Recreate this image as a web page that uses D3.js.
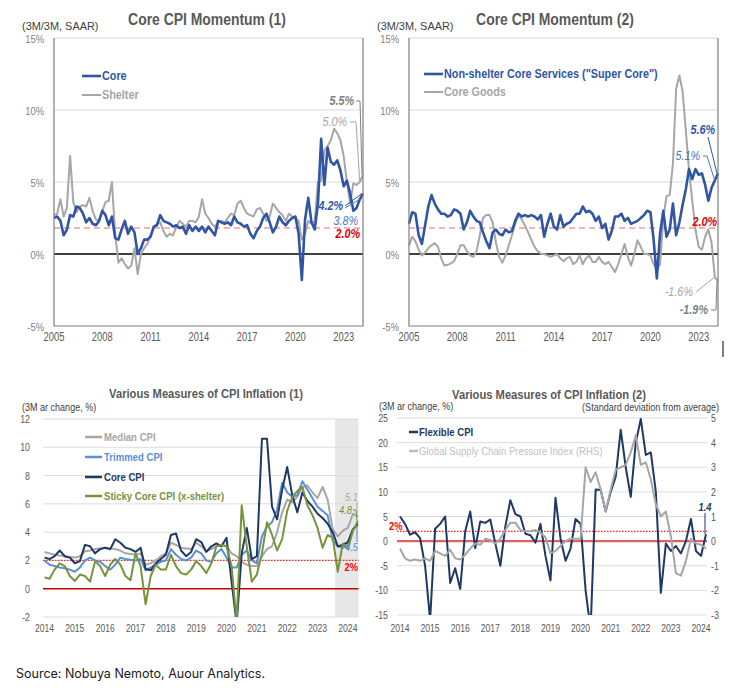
<!DOCTYPE html>
<html><head><meta charset="utf-8">
<script src="https://cdn.jsdelivr.net/npm/d3@7"></script>
<style>body{margin:0;background:#fff}svg{display:block}</style>
</head><body>
<svg id="c" width="748" height="694"></svg>
<script>
// ---------------- DATA ----------------
// Top panels: 3M/3M SAAR, sampled every 0.2 year from 2005.0
const topStart = 2005, topStep = 0.2;
const coreCPI = [2.5,2.6,2.3,1.3,1.7, 2.7,2.6,3.3,3.2,2.8, 2.2,2.5,2.1,2.0,2.3, 3.0,2.7,2.0,2.6,1.1,
  1.0,1.7,2.3,1.4,1.9, 1.5,0.0,0.4,1.0,1.0, 1.2,1.9,2.0,2.7,2.3, 2.2,2.1,1.9,2.0,1.8,
  1.9,1.4,2.0,1.6,1.9, 1.6,1.9,1.5,1.9,1.6, 1.3,2.3,2.2,2.1,2.2, 2.0,2.6,2.2,2.1,1.9,
  2.0,1.4,1.1,1.6,1.9, 2.5,2.8,2.2,1.5,1.9, 2.6,2.2,2.0,2.3,2.5, 2.6,1.4,-1.8,2.4,3.9,
  2.2,1.7,3.5,8.0,4.8, 7.4,6.4,6.2,6.5,5.8, 4.7,5.1,4.2,3.0,3.2, 3.8,4.2];
const shelter = [2.7,2.8,3.8,2.6,3.2, 6.8,3.6,2.9,3.3,3.4, 3.3,3.9,3.0,2.4,2.3, 3.0,3.6,3.7,5.0,1.4,
  -0.6,-0.3,-0.7,-1.0,-0.8, 0.4,-1.4,0.0,0.4,0.7, 1.3,1.9,2.1,2.2,1.6, 1.2,1.4,1.3,1.9,2.3,
  2.1,1.9,2.3,2.3,2.2, 2.6,3.8,2.8,2.5,2.1, 1.9,2.2,2.3,2.2,2.5, 2.8,2.7,3.5,3.7,3.2,
  2.8,2.7,2.6,3.1,3.2, 2.8,2.3,2.6,3.5,3.2, 2.9,2.7,2.3,2.8,2.6, 2.5,2.3,1.0,1.4,2.3,
  2.1,2.3,5.0,5.1,7.2, 7.5,7.9,8.7,8.4,7.9, 6.8,5.0,3.5,4.9,4.8, 5.0,5.5];
const superCore = [2.1,2.9,2.8,1.3,0.7, 2.0,3.3,4.1,3.5,3.1, 2.8,2.8,2.6,2.7,3.1, 3.0,2.8,1.7,2.2,3.0,
  2.6,2.3,2.2,1.5,0.9, 0.4,1.5,1.7,1.4,1.3, 1.7,1.5,1.6,2.3,2.8, 2.6,2.7,2.6,2.7,2.6,
  2.4,2.7,1.2,2.1,2.8, 1.9,1.7,2.7,1.9,2.1, 2.2,2.5,2.8,2.8,3.3, 2.9,3.0,2.8,2.3,2.6,
  1.8,2.1,1.0,1.6,2.6, 2.6,2.8,2.3,2.5,2.1, 2.2,2.3,2.5,2.7,3.0, 2.9,1.0,-1.7,1.4,3.0,
  1.2,1.7,3.5,1.3,2.2, 3.4,4.5,5.9,5.2,5.9, 5.5,5.6,4.8,3.7,4.6, 5.1,5.6];
const coreGoods = [0.6,1.2,0.9,0.3,-0.1, 0.1,0.4,0.6,0.75,0.5, -0.3,-0.8,-0.75,-0.65,-0.5, 0.0,0.6,0.6,0.2,-0.1,
  -0.2,0.2,1.3,2.5,2.7, 2.7,2.2,0.8,-0.2,-0.6, -0.1,0.6,1.3,2.1,2.7, 2.4,2.0,1.5,1.0,0.5,
  0.2,0.0,0.0,-0.1,-0.2, -0.1,0.0,-0.3,-0.5,-0.3, -0.2,-0.7,-0.55,-0.1,-0.7, -0.3,-0.1,-0.55,-0.55,-0.2,
  -0.55,-0.7,-0.55,-0.9,-1.25, -0.7,0.0,0.7,-0.2,-0.8, 0.0,0.95,0.5,0.0,0.0, -0.1,-0.7,-1.1,-0.7,2.5,
  4.0,4.1,6.3,11.5,12.4, 11.3,8.6,5.8,3.7,1.7, 0.5,0.3,1.2,1.7,0.8, -1.6,-1.9];
const topTarget = 1.8;
const topYTicks = [-5,0,5,10,15];
const topXTicks = [2005,2008,2011,2014,2017,2020,2023];

// Bottom-left: 3M ar change, every 2 months from 2014.0
const botStart = 2014, botStep = 1/6;
const medianCPI = [2.6,2.5,2.4,2.35,2.3,2.25, 2.2,2.3,2.65,2.7,2.8,2.85, 2.9,2.85,2.8,2.7,2.5,2.45,
  2.4,2.5,1.7,1.8,2.0,2.3, 2.5,3.25,3.1,2.9,2.85,2.8, 3.25,3.0,2.65,2.8,3.0,3.1,
  3.0,2.5,2.3,1.9,1.7,1.6, 1.6,2.3,2.8,3.0,4.0,5.4, 6.3,6.1,6.5,7.2,7.3,6.8,
  6.4,7.2,6.3,4.2,3.7,4.1, 4.3,5.3,5.1];
const trimmedCPI = [2.0,1.7,1.6,1.5,1.45,1.35, 1.2,1.5,2.0,2.2,2.0,1.9, 1.6,1.35,1.7,2.2,2.1,2.05,
  2.0,2.1,1.3,1.5,1.7,1.9, 2.0,2.8,2.4,2.1,2.0,2.2, 2.7,2.5,2.0,1.9,2.5,2.8,
  2.2,1.5,1.5,2.4,2.7,2.0, 1.8,3.7,4.4,4.7,5.6,7.5, 6.8,6.5,6.6,7.6,7.0,6.4,
  5.8,5.5,5.2,3.4,3.0,2.9, 3.1,4.2,4.5];
const coreCPI2 = [2.2,2.1,2.3,2.7,2.3,2.2, 1.8,1.95,3.1,3.0,2.5,2.8, 2.9,2.8,3.5,3.25,2.9,2.8,
  2.6,2.9,1.4,1.3,1.8,2.1, 2.4,3.8,3.9,2.7,2.3,2.6, 3.5,3.3,2.6,3.0,3.2,3.0,
  3.6,0.5,-2.5,2.5,4.3,2.1, 2.3,10.6,10.6,5.8,4.9,7.0, 8.6,6.6,5.4,6.8,6.2,5.8,
  5.3,5.0,4.6,4.0,3.0,3.1, 3.3,4.2,4.6];
const stickyCPI = [0.8,0.7,1.35,1.8,1.6,0.9, 0.55,1.0,0.9,0.5,1.95,1.6, 0.9,1.7,2.1,1.7,0.9,0.6,
  2.5,1.6,-1.1,0.9,1.7,1.35, 1.35,2.4,1.6,1.1,1.0,1.35, 1.95,1.6,1.1,1.8,3.0,3.1,
  3.0,1.6,-2.3,5.9,3.0,0.5, 1.0,2.5,4.7,3.8,2.7,3.5, 5.5,6.5,6.9,7.2,5.9,5.2,
  4.3,2.9,3.8,3.6,1.2,3.2, 2.8,4.1,4.8];
const shadeFrom = 2023.58;
const bl_yTicks = [-2,0,2,4,6,8,10,12];
const botXTicks = [2014,2015,2016,2017,2018,2019,2020,2021,2022,2023,2024];

// Bottom-right
const flexibleCPI = [5.0,3.5,1.3,1.8,0.6,-5, -16,2.5,3.5,5.0,-8.5,-5.5, -9.7,2.0,6.0,-1.4,4.0,3.7,
  4.4,-0.5,-5.0,3.0,8.3,5.5, 5.0,1.5,1.2,-0.3,3.5,-3.0, -8.0,8.8,0.5,-4.0,-1.5,4.5,
  3.5,-10,-18,10.5,10.4,6.0, 10.0,13.1,22.6,15.0,9.0,20.0, 24.8,17.5,18.0,10.0,-10.5,-0.5,
  -2.0,-1.0,-2.5,0.0,4.5,-2.0, -3.0,1.4];
const gscpi = [-0.3,-0.7,-0.8,-0.75,-0.8,-0.7, -0.8,-0.4,-0.5,-0.6,-0.35,-0.7, -0.75,-0.55,-0.3,-0.1,-0.15,0.1,
  0.05,-0.1,0.1,0.45,0.75,0.75, 0.45,0.4,0.4,0.45,0.35,0.15, -0.5,-0.4,-0.2,0.0,0.1,0.1,
  0.1,3.0,2.4,2.8,2.1,1.2, 2.1,2.9,3.0,3.1,3.6,4.3, 3.1,3.2,2.5,1.5,1.0,1.2,
  0.2,-1.3,-1.4,-0.8,0.1,-0.1, -0.15,-0.3];
const br_yTicksL = [-15,-10,-5,0,5,10,15,20,25];
const br_yTicksR = [-3,-2,-1,0,1,2,3,4,5];
const botTarget = 2;

// ---------------- DRAW ----------------
const svg = d3.select('#c');
const FONT = '"Liberation Sans", Arial, Helvetica, sans-serif';
function condense(sel, f){ sel.each(function(){ const w=this.getComputedTextLength(); if(w>0) d3.select(this).attr('textLength', w*f).attr('lengthAdjust','spacingAndGlyphs'); }); }
function txt(x,y,s,o={}){
  const t = svg.append('text').attr('x',x).attr('y',y).attr('dominant-baseline','central')
    .attr('font-family',o.font||FONT).attr('font-size',o.size||11)
    .attr('font-weight',o.bold?'bold':'normal').attr('font-style',o.italic?'italic':'normal')
    .attr('fill',o.fill||'#404040').attr('text-anchor',o.anchor||'start').text(s);
  if(o.c) condense(t,o.c);
  return t;
}
const series = (arr,start,step)=>arr.map((v,i)=>({t:start+i*step, v}));
function hline(g,x0,x1,yy,stroke,w,dash){ const l=g.append('line').attr('x1',x0).attr('x2',x1).attr('y1',yy).attr('y2',yy).attr('stroke',stroke).attr('stroke-width',w); if(dash) l.attr('stroke-dasharray',dash); return l; }
function path(g,data,x,y,color,w){ return g.append('path').datum(data).attr('fill','none').attr('stroke',color).attr('stroke-width',w).attr('stroke-linejoin','round').attr('d',d3.line().x(d=>x(d.t)).y(d=>y(d.v))); }
function leader(pts,color,w){ svg.append('path').attr('d',d3.line()(pts)).attr('fill','none').attr('stroke',color).attr('stroke-width',w||1); }

const BLUE='#2f55a4', GRAY='#a6a6a6', LBLUE='#4f75bf', RED='#e00000';

// ---- Top panels ----
function topPanel(x0,x1,s1,s2,title,titleX,leg1,leg2,legX,legY1,legY2){
  const x = d3.scaleLinear().domain([2005,2024.2]).range([x0,x1]);
  const y = d3.scaleLinear().domain([-5,15]).range([326,38]);
  const g = svg.append('g');
  topYTicks.filter(d=>d>0).forEach(d=>hline(g,x0,x1,y(d),'#d9d9d9',1));
  hline(g,x0,x1,y(topTarget),'#f09a9a',1.5,'6,4');
  hline(g,x0,x1,y(0),'#000',1.5);
  path(g,series(s2,topStart,topStep),x,y,GRAY,2);
  path(g,series(s1,topStart,topStep),x,y,BLUE,2.6);
  g.append('path').attr('d',`M${x0},${y(15)}V${y(-5)}H${x1}V${y(15)}`).attr('fill','none').attr('stroke','#7f7f7f').attr('stroke-width',1.2);
  topYTicks.forEach(d=>txt(x0-10,y(d)+1,d+'%',{size:11,fill:'#7f7f7f',anchor:'end',c:0.85}));
  topXTicks.forEach(d=>txt(x(d),337,d,{size:12,fill:'#595959',anchor:'middle',c:0.78}));
  txt(titleX,19,title,{size:16,bold:true,fill:'#595959',anchor:'middle',c:0.87});
  txt(x0-32,26,'(3M/3M, SAAR)',{size:11.5,fill:'#404040',c:0.95});
  hline(svg,legX,legX+19,legY1,BLUE,2.6);
  txt(legX+20,legY1,leg1,{size:12,bold:true,fill:BLUE,c:0.9});
  hline(svg,legX,legX+19,legY2,GRAY,2);
  txt(legX+20,legY2,leg2,{size:12,bold:true,fill:GRAY,c:0.9});
  return {x,y};
}
const p1 = topPanel(54,363,coreCPI,shelter,'Core CPI Momentum (1)',207,'Core','Shelter',82,76,95);
const p2 = topPanel(409,718,superCore,coreGoods,'Core CPI Momentum (2)',555,'Non-shelter Core Services ("Super Core")','Core Goods',424,74,92);

// Annotations panel 1
const n1 = coreCPI.length-1;
const tEnd = topStart+n1*topStep, tPrev = topStart+(n1-1)*topStep;
txt(354,101,shelter[n1].toFixed(1)+'%',{size:12,bold:true,italic:true,fill:'#7f7f7f',anchor:'end',c:0.9});
leader([[356,101],[360,101],[p1.x(tEnd)-1,p1.y(shelter[n1])]],'#7f7f7f');
txt(347,122,shelter[n1-1].toFixed(1)+'%',{size:12,italic:true,fill:GRAY,anchor:'end',c:0.9});
leader([[350,122],[356,122],[p1.x(tPrev),p1.y(shelter[n1-1])]],GRAY);
txt(343,206,coreCPI[n1].toFixed(1)+'%',{size:12,bold:true,italic:true,fill:BLUE,anchor:'end',c:0.9});
leader([[345,206],[p1.x(tEnd)-1,p1.y(coreCPI[n1])]],BLUE);
txt(358,221,coreCPI[n1-1].toFixed(1)+'%',{size:12,italic:true,fill:LBLUE,anchor:'end',c:0.9});
leader([[345,208],[p1.x(tPrev),p1.y(coreCPI[n1-1])]],LBLUE);
txt(360,234,'2.0%',{size:12,bold:true,italic:true,fill:RED,anchor:'end',c:0.9});

// Annotations panel 2
txt(715,130,superCore[n1].toFixed(1)+'%',{size:12,bold:true,italic:true,fill:BLUE,anchor:'end',c:0.9});
leader([[708,137],[p2.x(tEnd)-1,p2.y(superCore[n1])]],BLUE);
txt(700,156,superCore[n1-1].toFixed(1)+'%',{size:12,italic:true,fill:LBLUE,anchor:'end',c:0.9});
leader([[703,156],[707,156],[p2.x(tPrev),p2.y(superCore[n1-1])]],LBLUE);
txt(693,292,coreGoods[n1-1].toFixed(1)+'%',{size:12,italic:true,fill:GRAY,anchor:'end',c:0.9});
leader([[696,292],[p2.x(tPrev),p2.y(coreGoods[n1-1])]],GRAY);
txt(708,310,coreGoods[n1].toFixed(1)+'%',{size:12,bold:true,italic:true,fill:'#7f7f7f',anchor:'end',c:0.9});
leader([[711,310],[716,310],[p2.x(tEnd)-1,p2.y(coreGoods[n1])]],'#7f7f7f');
txt(717,222,'2.0%',{size:12,bold:true,italic:true,fill:RED,anchor:'end',c:0.9});
// stray mark
svg.append('line').attr('x1',723).attr('x2',723).attr('y1',341).attr('y2',357).attr('stroke','#000').attr('stroke-width',1);

// ---- Bottom-left panel ----
{
  const x = d3.scaleLinear().domain([2013.95,2024.35]).range([43,358.5]);
  const y = d3.scaleLinear().domain([-2,12]).range([617,419]);
  const g = svg.append('g');
  g.append('clipPath').attr('id','clip3').append('rect').attr('x',43).attr('y',419).attr('width',315.5).attr('height',198);
  g.append('rect').attr('x',x(shadeFrom)).attr('y',419).attr('width',358.5-x(shadeFrom)).attr('height',198).attr('fill','#e7e7e7');
  bl_yTicks.filter(d=>d!==0).forEach(d=>hline(g,43,358.5,y(d),'#dcdcdc',1));
  hline(g,43,358.5,y(0),'#c00000',1.5);
  hline(g,43,358.5,y(botTarget),'#ff2020',1.2,'1.5,1.5');
  const lg = g.append('g').attr('clip-path','url(#clip3)');
  const cols = ['#a6a6a6','#5b8fd6','#1f3864','#77933c'];
  [medianCPI,trimmedCPI,coreCPI2,stickyCPI].forEach((s,i)=>path(lg,series(s,botStart,botStep),x,y,cols[i],2));
  bl_yTicks.forEach(d=>txt(30,y(d),d,{size:11,fill:'#595959',anchor:'end',c:0.8}));
  botXTicks.forEach(d=>txt(x(d),628,d,{size:11,fill:'#595959',anchor:'middle',c:0.78}));
  txt(206,393,'Various Measures of CPI Inflation (1)',{size:13,bold:true,fill:'#595959',anchor:'middle',c:0.86});
  txt(22,407,'(3M ar change, %)',{size:11,fill:'#404040',c:0.82});
  const names = ['Median CPI','Trimmed CPI','Core CPI','Sticky Core CPI (x-shelter)'];
  const ly = [437,457,477,496];
  names.forEach((n,i)=>{ hline(svg,85,102,ly[i],cols[i],2.5); txt(104,ly[i],n,{size:11,bold:true,fill:cols[i],c:0.87}); });
  const nb = medianCPI.length-1, tb = botStart+nb*botStep;
  txt(358,497,medianCPI[nb].toFixed(1),{size:11,italic:true,fill:'#a6a6a6',anchor:'end',c:0.85});
  leader([[357,502],[x(tb)-1,y(medianCPI[nb])]],'#a6a6a6');
  txt(352,510,stickyCPI[nb].toFixed(1),{size:11,italic:true,fill:'#77933c',anchor:'end',c:0.85});
  leader([[353,510],[356,510],[x(tb)-1,y(stickyCPI[nb])]],'#77933c');
  txt(358,547,trimmedCPI[nb].toFixed(1),{size:11,italic:true,fill:'#5b8fd6',anchor:'end',c:0.85});
  leader([[357,542],[x(tb)-1,y(trimmedCPI[nb])]],'#5b8fd6');
  txt(358,567,'2%',{size:11,bold:true,fill:'#ff0000',anchor:'end',c:0.85});
}

// ---- Bottom-right panel ----
{
  const x = d3.scaleLinear().domain([2013.9,2024.2]).range([397,707]);
  const yL = d3.scaleLinear().domain([-15,25]).range([615,418]);
  const yR = d3.scaleLinear().domain([-3,5]).range([615,418]);
  const g = svg.append('g');
  g.append('clipPath').attr('id','clip4').append('rect').attr('x',397).attr('y',418).attr('width',310).attr('height',197);
  br_yTicksL.filter(d=>d!==0).forEach(d=>hline(g,397,707,yL(d),'#dcdcdc',1));
  hline(g,397,707,yL(0),'#e06060',2.2);
  hline(g,397,707,yL(botTarget),'#ff2020',1.2,'1.5,1.5');
  const lg = g.append('g').attr('clip-path','url(#clip4)');
  path(lg,series(flexibleCPI,botStart,botStep),x,yL,'#1f3864',2);
  path(lg,series(gscpi,botStart,botStep),x,yR,'#a6a6a6',2);
  br_yTicksL.forEach(d=>txt(388,yL(d),d,{size:11,fill:'#595959',anchor:'end',c:0.8}));
  br_yTicksR.forEach(d=>txt(711,yR(d),d,{size:11,fill:'#595959',anchor:'start',c:0.8}));
  botXTicks.forEach(d=>txt(x(d),628,d,{size:11,fill:'#595959',anchor:'middle',c:0.78}));
  txt(549,394,'Various Measures of CPI Inflation (2)',{size:13,bold:true,fill:'#595959',anchor:'middle',c:0.86});
  txt(379,406,'(3M ar change, %)',{size:11,fill:'#404040',c:0.82});
  txt(719,407,'(Standard deviation from average)',{size:11,fill:'#404040',anchor:'end',c:0.82});
  hline(svg,409,418,432,'#1f3864',2.5);
  txt(419,432,'Flexible CPI',{size:11,bold:true,fill:'#1f3864',c:0.87});
  hline(svg,409,418,451,'#bfbfbf',2.5);
  txt(419,451,'Global Supply Chain Pressure Index (RHS)',{size:11,fill:'#bfbfbf',c:0.87});
  const nf = flexibleCPI.length-1, tf = botStart+nf*botStep;
  txt(705,507,flexibleCPI[nf].toFixed(1),{size:11,bold:true,italic:true,fill:'#1f3864',anchor:'middle',c:0.85});
  leader([[705,513],[x(tf)-1,yL(flexibleCPI[nf])]],'#1f3864');
  txt(389,526,'2%',{size:11,bold:true,fill:'#ff0000',c:0.85});
}

txt(16,673,'Source: Nobuya Nemoto, Auour Analytics.',{font:'Inter, "Liberation Sans", sans-serif',size:12.5,fill:'#1a1a1a'});
</script>
</body></html>
